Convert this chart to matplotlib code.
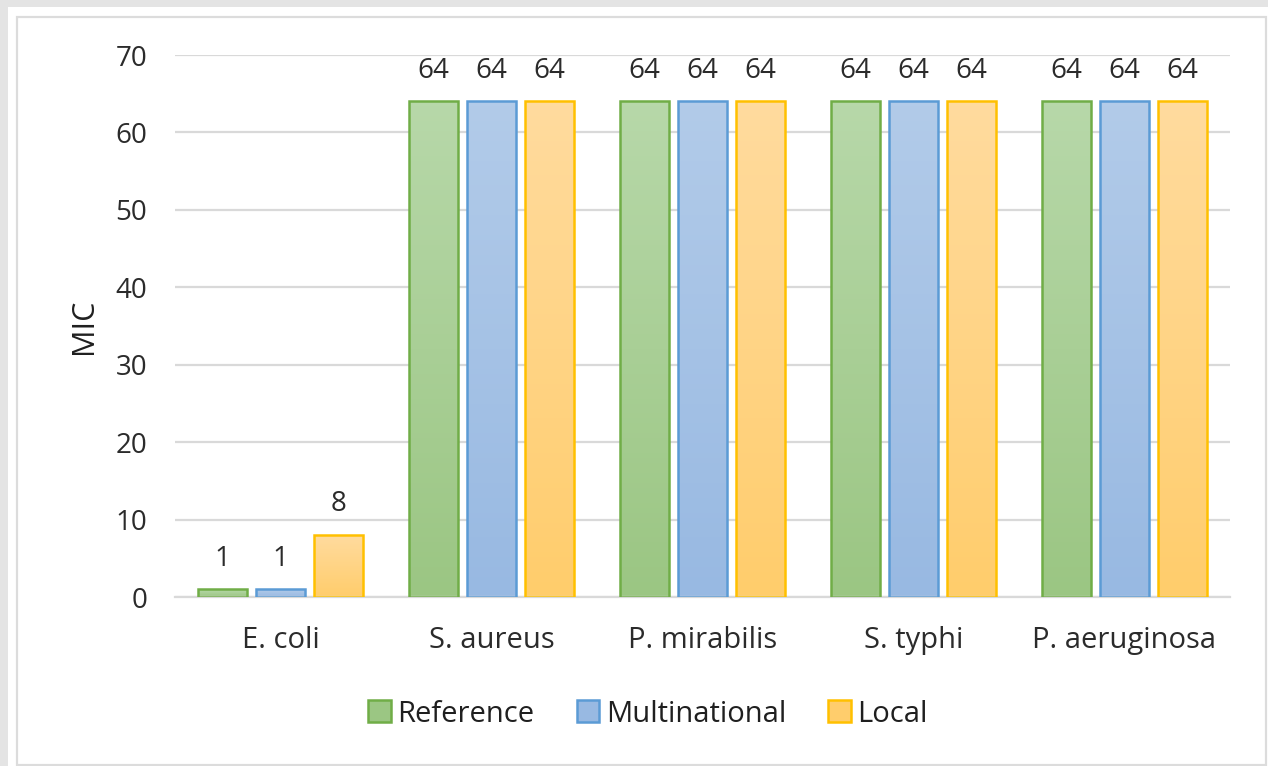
import numpy as np
import matplotlib
matplotlib.use('Agg')
import matplotlib.pyplot as plt
from matplotlib.colors import LinearSegmentedColormap
from matplotlib.patches import Patch, Rectangle

plt.rcParams['font.family'] = ['Open Sans', 'DejaVu Sans']

organisms = ['E. coli', 'S. aureus', 'P. mirabilis', 'S. typhi', 'P. aeruginosa']
series = ['Reference', 'Multinational', 'Local']
reference = [1, 64, 64, 64, 64]
multinational = [1, 64, 64, 64, 64]
local = [8, 64, 64, 64, 64]

edge_colors = ['#70AD47', '#5B9BD5', '#FFC000']
top_colors = ['#b7d8a9', '#b2cbe9', '#ffdb9e']
bottom_colors = ['#9bc683', '#98b9e2', '#ffcd6c']

W, H = 1268, 766
fig = plt.figure(figsize=(W / 100, H / 100), dpi=100, facecolor='#e4e4e4')

# white panel with thin inner frame
fig.patches.append(Rectangle((8 / W, 0), 1, 1 - 7 / H, transform=fig.transFigure,
                             facecolor='white', edgecolor='none', zorder=-2))
fig.patches.append(Rectangle((17 / W, 1 / H), 1249 / W, 1 - 18 / H, transform=fig.transFigure,
                             facecolor='none', edgecolor='#dcdcdc', lw=1.6, zorder=-1))

ax = fig.add_axes([175 / W, 1 - 597 / H, 1055 / W, 542 / H])
ax.set_facecolor('none')
ax.set_zorder(2)

x = np.arange(len(organisms))
step = 0.275
width = 0.228
grad = np.linspace(0, 1, 100).reshape(-1, 1)

for i, vals in enumerate([reference, multinational, local]):
    pos = x + (i - 1) * step
    bars = ax.bar(pos, vals, width, facecolor='none', edgecolor=edge_colors[i],
                  linewidth=1.8, zorder=3, label=series[i])
    cmap = LinearSegmentedColormap.from_list('g%d' % i, [bottom_colors[i], top_colors[i]])
    for b, v in zip(bars, vals):
        im = ax.imshow(grad, cmap=cmap, origin='lower', aspect='auto',
                       extent=[b.get_x(), b.get_x() + b.get_width(), 0, v], zorder=2)
        im.set_clip_path(b)
        ax.annotate(str(v), (b.get_x() + b.get_width() / 2, v), xytext=(0, 12),
                    textcoords='offset points', ha='center', va='bottom',
                    fontsize=20, color='#2b2b2b')

ax.set_xlim(-0.5, len(organisms) - 0.5)
ax.set_ylim(0, 70)
ax.set_yticks(range(0, 71, 10))
ax.set_xticks(x)
ax.set_xticklabels(organisms)
ax.grid(axis='y', color='#d9d9d9', linewidth=1.6, zorder=0)
ax.set_axisbelow(True)
for s in ['top', 'right', 'left']:
    ax.spines[s].set_visible(False)
ax.spines['bottom'].set_color('#d9d9d9')
ax.spines['bottom'].set_linewidth(1.6)
ax.tick_params(axis='y', length=0, pad=20, labelsize=20, labelcolor='#2b2b2b')
ax.tick_params(axis='x', length=0, pad=21, labelsize=21, labelcolor='#2b2b2b')
ax.set_ylabel('MIC', fontsize=22, color='#1f1f1f', labelpad=12)

handles = [Patch(facecolor=bottom_colors[i], edgecolor=edge_colors[i], lw=1.8, label=series[i])
           for i in range(3)]
fig.legend(handles=handles, loc='center', bbox_to_anchor=(0.511, 1 - 714 / H), ncol=3,
           frameon=False, fontsize=21, handlelength=0.78, handleheight=0.78,
           handletextpad=0.22, columnspacing=1.45, labelcolor='#1f1f1f')

fig.savefig('out.png', dpi=100, facecolor=fig.get_facecolor())
